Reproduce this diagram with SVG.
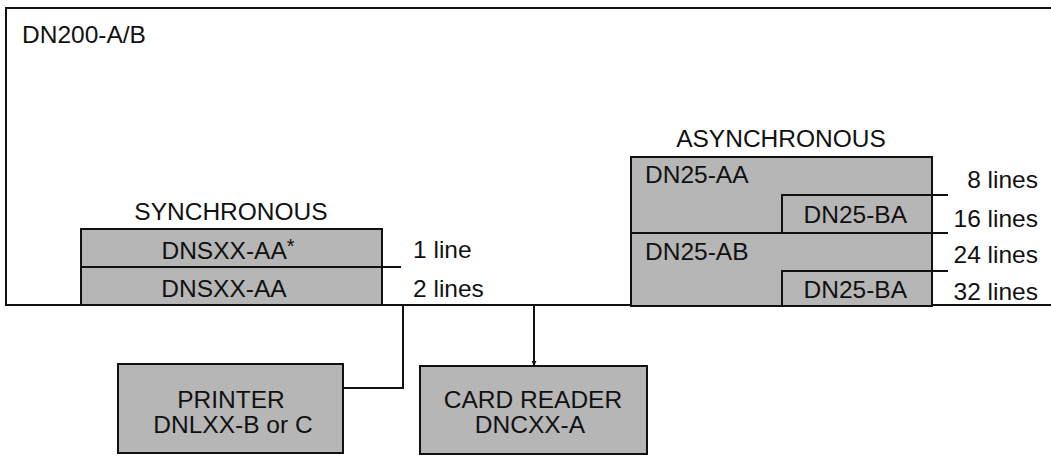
<svg xmlns="http://www.w3.org/2000/svg" width="1051" height="457" viewBox="0 0 1051 457">
<style>
.t{font-family:"Liberation Sans",Arial,Helvetica,sans-serif;font-size:24.5px;fill:#111}
.m{text-anchor:middle}
.e{text-anchor:end}
.box{fill:#b6b6b6;stroke:#111;stroke-width:2}
.ln{fill:none;stroke:#111;stroke-width:2}
</style>
<defs>
<marker id="ah" viewBox="0 0 6 6" refX="6" refY="3" markerWidth="5" markerHeight="5" orient="auto" markerUnits="userSpaceOnUse">
<path d="M0,0 L6,3 L0,6 z" fill="#111"/>
</marker>
</defs>
<rect width="1051" height="457" fill="#fff"/>
<g id="frame">
<path class="ln" d="M1051,8 H6 V305 H1051"/>
<text class="t" x="22" y="43">DN200-A/B</text>
</g>
<g id="synchronous">
<text class="t m" x="231" y="220">SYNCHRONOUS</text>
<rect class="box" x="81" y="229" width="301" height="76"/>
<path class="ln" d="M81,267 H401"/>
<text class="t m" x="228" y="259">DNSXX-AA<tspan font-size="20" dy="-6">*</tspan></text>
<text class="t m" x="224" y="297">DNSXX-AA</text>
<text class="t" x="413" y="258">1 line</text>
<text class="t" x="413" y="297">2 lines</text>
</g>
<g id="asynchronous">
<text class="t m" x="781" y="147">ASYNCHRONOUS</text>
<rect class="box" x="631" y="157" width="301" height="149"/>
<path class="ln" d="M948,195 H782 V233"/>
<path class="ln" d="M631,233 H948"/>
<path class="ln" d="M948,271 H782 V306"/>
<text class="t" x="645" y="183">DN25-AA</text>
<text class="t e" x="907" y="223">DN25-BA</text>
<text class="t" x="645" y="260">DN25-AB</text>
<text class="t e" x="907" y="298">DN25-BA</text>
<text class="t e" x="1038" y="188">8 lines</text>
<text class="t e" x="1038" y="227">16 lines</text>
<text class="t e" x="1038" y="263">24 lines</text>
<text class="t e" x="1038" y="300">32 lines</text>
</g>
<g id="printer">
<rect class="box" x="118" y="364" width="225" height="89"/>
<text class="t m" x="231" y="408">PRINTER</text>
<text class="t m" x="233" y="433">DNLXX-B or C</text>
</g>
<g id="card-reader">
<rect class="box" x="420" y="366" width="227" height="88"/>
<text class="t m" x="533" y="408">CARD READER</text>
<text class="t m" x="530" y="433">DNCXX-A</text>
</g>
<g id="connectors">
<path class="ln" d="M403,305 V388 H343"/>
<path class="ln" d="M534,305 V366" marker-end="url(#ah)"/>
</g>
</svg>
